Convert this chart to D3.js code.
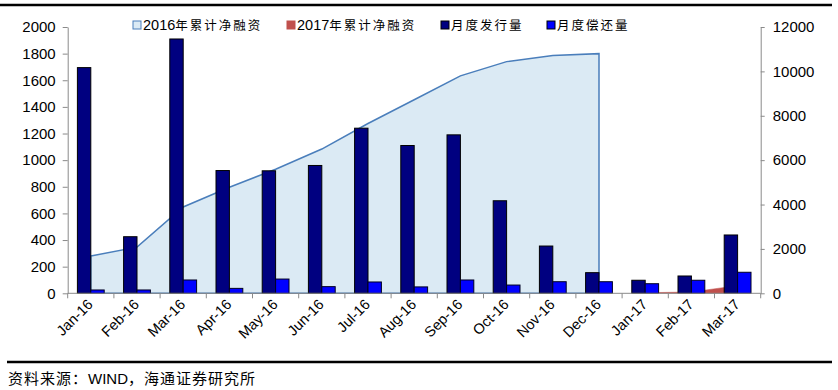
<!DOCTYPE html>
<meta charset="utf-8">
<style>
body { margin: 0; background: #fff; }
svg { font-family: "Liberation Sans", Arial, sans-serif; }
.axis path, .axis line { stroke: #8a8a8a; }
.cjk { font-family: "Noto Sans CJK SC", sans-serif; }
</style>
<svg width="838" height="390"></svg>
<script src="https://d3js.org/d3.v7.min.js"></script>
<script>
// months
var months = ["Jan-16","Feb-16","Mar-16","Apr-16","May-16","Jun-16","Jul-16","Aug-16",
              "Sep-16","Oct-16","Nov-16","Dec-16","Jan-17","Feb-17","Mar-17"];
// 月度发行量 (left axis)
var issue = [1695, 425, 1910, 922, 920, 960, 1240, 1110, 1190, 695, 355, 155, 98, 130, 438];
// 月度偿还量 (left axis)
var repay = [25, 25, 100, 37, 107, 50, 85, 48, 100, 62, 87, 87, 72, 98, 158];
// 2016年累计净融资 (right axis)
var cum16 = [1680, 2080, 3890, 4780, 5590, 6500, 7650, 8720, 9800, 10440, 10720, 10800];
// 2017年累计净融资 (right axis)
var cum17 = [25, 60, 345];
var leftTicks = [0,200,400,600,800,1000,1200,1400,1600,1800,2000];
var rightTicks = [0,2000,4000,6000,8000,10000,12000];

var svg = d3.select("svg");
var x0 = 67.7, x1 = 760.7, yTop = 27, yBot = 293.3;

var x = d3.scaleBand().domain(months).range([x0, x1]).padding(0);
var yL = d3.scaleLinear().domain([0, 2000]).range([yBot, yTop]);
var yR = d3.scaleLinear().domain([0, 12000]).range([yBot, yTop]);
var cx = d => x(d) + x.bandwidth() / 2;

// frame lines
svg.append("line").attr("x1", 0).attr("x2", 832).attr("y1", 5).attr("y2", 5)
  .attr("stroke", "#000").attr("stroke-width", 2.5);
svg.append("line").attr("x1", 7).attr("x2", 832).attr("y1", 362).attr("y2", 362)
  .attr("stroke", "#000").attr("stroke-width", 2.5);

// areas
var area16 = d3.area().x((d, i) => cx(months[i])).y0(yBot).y1(d => yR(d));
svg.append("path").datum(cum16).attr("d", area16)
  .attr("fill", "#dbeaf4").attr("stroke", "#4a7ebb").attr("stroke-width", 1.5);
var area17 = d3.area().x((d, i) => cx(months[i + 12])).y0(yBot).y1(d => yR(d));
svg.append("path").datum(cum17).attr("d", area17)
  .attr("fill", "#c0504d").attr("stroke", "#c0504d").attr("stroke-width", 0.5);

// bars
var bw = 13.4;
svg.append("g").selectAll("rect").data(issue).join("rect")
  .attr("x", (d, i) => cx(months[i]) - bw).attr("width", bw)
  .attr("y", d => yL(d)).attr("height", d => yBot - yL(d))
  .attr("fill", "#000080").attr("stroke", "#000").attr("stroke-width", 1);
svg.append("g").selectAll("rect").data(repay).join("rect")
  .attr("x", (d, i) => cx(months[i])).attr("width", bw)
  .attr("y", d => yL(d)).attr("height", d => yBot - yL(d))
  .attr("fill", "#0000ff").attr("stroke", "#000022").attr("stroke-width", 1);

// left axis
var gl = svg.append("g").attr("class", "axis").attr("transform", "translate(" + x0 + ",0)")
  .call(d3.axisLeft(yL).tickValues(leftTicks).tickFormat(d3.format("d"))
    .tickSize(5).tickSizeOuter(0).tickPadding(7));
gl.selectAll("text").attr("font-size", "15px").attr("fill", "#000");
// right axis
var gr = svg.append("g").attr("class", "axis").attr("transform", "translate(" + x1 + ",0)")
  .call(d3.axisRight(yR).tickValues(rightTicks).tickFormat(d3.format("d"))
    .tickSize(4).tickSizeOuter(0).tickPadding(8));
gr.selectAll("text").attr("font-size", "15px").attr("fill", "#000");
// x axis
var gx = svg.append("g").attr("class", "axis").attr("transform", "translate(0," + yBot + ")");
gx.append("line").attr("x1", x0).attr("x2", x1);
gx.selectAll(".tk").data(months.concat(["end"])).join("line").attr("class", "tk")
  .attr("x1", (d, i) => x0 + i * x.bandwidth()).attr("x2", (d, i) => x0 + i * x.bandwidth())
  .attr("y1", 0).attr("y2", 5);
gx.selectAll("text").data(months).join("text")
  .attr("transform", d => "translate(" + (cx(d) + 3) + ",12) rotate(-45)")
  .attr("text-anchor", "end").attr("font-size", "14.5px").text(d => d);

// legend
var legend = [
  {name: "2016", cn: "年累计净融资", x: 133, fill: "#dbeaf4", stroke: "#4a7ebb"},
  {name: "2017", cn: "年累计净融资", x: 287, fill: "#c0504d", stroke: "#c0504d"},
  {name: "", cn: "月度发行量", x: 441, fill: "#000080", stroke: "#000"},
  {name: "", cn: "月度偿还量", x: 547, fill: "#0000ff", stroke: "#000"}
];
var lg = svg.append("g").selectAll("g").data(legend).join("g")
  .attr("transform", d => "translate(" + d.x + ",25)");
lg.append("rect").attr("x", 0).attr("y", -4).attr("width", 8).attr("height", 8)
  .attr("fill", d => d.fill).attr("stroke", d => d.stroke).attr("stroke-width", 1);
var lt = lg.append("text").attr("x", 10).attr("y", 5).attr("font-size", "14.5px");
lt.append("tspan").text(d => d.name);
lt.append("tspan").attr("class", "cjk").attr("font-size", "12.5px")
  .attr("letter-spacing", "2px").text(d => d.cn);

// source
var src = svg.append("text").attr("x", 8).attr("y", 384).attr("font-size", "15px");
src.append("tspan").attr("class", "cjk").attr("letter-spacing", "1px").text("资料来源：");
src.append("tspan").text("WIND");
src.append("tspan").attr("class", "cjk").attr("letter-spacing", "1px").text("，海通证券研究所");
</script>
